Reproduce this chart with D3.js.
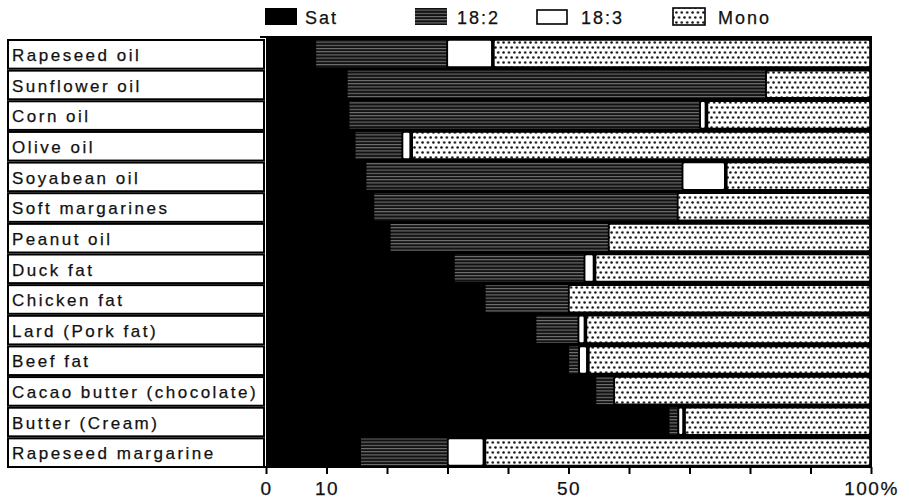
<!DOCTYPE html>
<html>
<head>
<meta charset="utf-8">
<script src="https://cdn.jsdelivr.net/npm/d3@7"></script>
<style>
  body { margin: 0; background: #fff; }
  text { font-family: "Liberation Sans", Arial, sans-serif; fill: #111; stroke: #111; stroke-width: 0.25; }
</style>
</head>
<body>
<div id="chart"></div>
<script>
// fat names, top to bottom
var fats = ["Rapeseed oil", "Sunflower oil", "Corn oil", "Olive oil", "Soyabean oil",
    "Soft margarines", "Peanut oil", "Duck fat", "Chicken fat", "Lard (Pork fat)",
    "Beef fat", "Cacao butter (chocolate)", "Butter (Cream)", "Rapeseed margarine"];

// percent of total fatty acids
var sat   = [8.3, 13.5, 13.8, 14.8, 16.6, 17.9, 20.6, 31.2, 36.3, 44.7, 50.1, 54.6, 66.7, 15.7];
var c18_2 = [21.5, 69.0, 57.8, 7.6, 52.1, 50.0, 35.9, 21.3, 13.6, 6.8, 1.5, 2.8, 1.3, 14.2];
var c18_3 = [7.7, 0, 1.2, 1.6, 7.3, 0, 0, 1.8, 0, 1.3, 1.6, 0, 1.1, 6.2];
var mono  = [62.5, 17.5, 27.2, 76.0, 24.0, 32.1, 43.5, 45.7, 50.1, 47.2, 46.8, 42.6, 30.9, 63.9];

var keys = ["sat", "c18_2", "c18_3", "mono"];
var legendNames = ["Sat", "18:2", "18:3", "Mono"];
var xTicks = [0, 10, 20, 30, 40, 50, 60, 70, 80, 90, 100];
var tickLabels = { 0: "0", 10: "10", 50: "50", 100: "100%" };

var rows = fats.map(function (f, i) {
    return { name: f, sat: sat[i], c18_2: c18_2[i], c18_3: c18_3[i], mono: mono[i] };
});

var width = 909, height = 500;
var plotLeft = 266, plotRight = 871, plotTop = 37, plotBottom = 467;

var svg = d3.select("#chart").append("svg")
    .attr("width", width)
    .attr("height", height);

// patterns
var defs = svg.append("defs");

var hatch = defs.append("pattern")
    .attr("id", "hatch")
    .attr("patternUnits", "userSpaceOnUse")
    .attr("width", 8).attr("height", 3.2);
hatch.append("rect").attr("width", 8).attr("height", 3.2).attr("fill", "#111");
hatch.append("line")
    .attr("x1", 0).attr("x2", 8).attr("y1", 0.6).attr("y2", 0.6)
    .attr("stroke", "#bbb").attr("stroke-width", 0.7);

var dots = defs.append("pattern")
    .attr("id", "dots")
    .attr("patternUnits", "userSpaceOnUse")
    .attr("width", 5.4).attr("height", 10);
dots.append("rect").attr("width", 5.4).attr("height", 10).attr("fill", "#fff");
dots.append("circle").attr("cx", 1.4).attr("cy", 2.5).attr("r", 1.25).attr("fill", "#111");
dots.append("circle").attr("cx", 4.1).attr("cy", 7.5).attr("r", 1.25).attr("fill", "#111");

var x = d3.scaleLinear().domain([0, 100]).range([plotLeft, plotRight]);
var y = d3.scaleBand().domain(fats).range([plotTop + 1, plotBottom]).padding(0);

var stacked = d3.stack().keys(keys)(rows);

// black ground of the plot
svg.append("rect")
    .attr("x", plotLeft).attr("y", plotTop)
    .attr("width", plotRight - plotLeft + 1).attr("height", plotBottom - plotTop)
    .attr("fill", "#000");

function fillFor(key) {
    if (key == "sat") return "#000";
    if (key == "c18_2") return "url(#hatch)";
    if (key == "c18_3") return "#fff";
    return "url(#dots)";
}

stacked.forEach(function (layer) {
    var key = layer.key;
    svg.append("g").selectAll("rect")
        .data(layer.filter(function (d) { return d[1] - d[0] > 0; }))
        .enter()
        .append("rect")
        .attr("x", function (d) {
            return key == "sat" || key == "c18_2" ? x(d[0]) : x(d[0]) + 1;
        })
        .attr("y", function (d) { return y(d.data.name) + (key == "sat" ? 0 : 2); })
        .attr("width", function (d) {
            var w = x(d[1]) - x(d[0]);
            return key == "sat" || key == "c18_2" ? w : Math.max(w - 2, 1);
        })
        .attr("height", y.bandwidth() - (key == "sat" ? 0 : 3.5))
        .attr("rx", key == "c18_3" || key == "mono" ? 2 : 0)
        .attr("fill", fillFor(key))
        .attr("stroke", key == "c18_3" || key == "mono" ? "#000" : "none")
        .attr("stroke-width", 1.6);
});

// top rule
svg.append("line")
    .attr("x1", 260).attr("x2", plotRight + 1)
    .attr("y1", plotTop).attr("y2", plotTop)
    .attr("stroke", "#000").attr("stroke-width", 2);

// label boxes
var labels = svg.append("g");
labels.selectAll("rect")
    .data(fats)
    .enter()
    .append("rect")
    .attr("x", 8)
    .attr("y", function (d) { return y(d) + 2; })
    .attr("width", 256)
    .attr("height", y.bandwidth() - 2)
    .attr("fill", "#fff")
    .attr("stroke", "#000")
    .attr("stroke-width", 2);

labels.selectAll("text")
    .data(fats)
    .enter()
    .append("text")
    .attr("x", 12)
    .attr("y", function (d) { return y(d) + 23; })
    .attr("font-size", 17)
    .attr("letter-spacing", 2.5)
    .text(function (d) { return d; });

// x axis
var xAxis = d3.axisBottom(x)
    .tickValues(xTicks)
    .tickSize(7)
    .tickFormat(function (d) { return tickLabels[d] || ""; });

var axisG = svg.append("g")
    .attr("transform", "translate(0," + plotBottom + ")")
    .call(xAxis);
axisG.select(".domain").attr("stroke-width", 2).attr("d", "M" + 8 + ",0H" + (plotRight + 1));
axisG.selectAll(".tick line").attr("stroke-width", 2);
axisG.selectAll(".tick text")
    .attr("font-size", 19)
    .attr("letter-spacing", 1.5)
    .attr("font-family", "Liberation Sans, Arial, sans-serif")
    .attr("fill", "#111")
    .attr("dy", "0.95em");

// legend
var legendSwatchX = [265, 415, 537, 673];
var legendTextX = [305, 457, 581, 718];
var legend = svg.append("g");
keys.forEach(function (k, i) {
    legend.append("rect")
        .attr("x", legendSwatchX[i])
        .attr("y", k == "c18_3" ? 10 : 8)
        .attr("width", k == "c18_3" ? 30 : 32)
        .attr("height", k == "c18_3" ? 14 : 17)
        .attr("fill", fillFor(k))
        .attr("stroke", k == "c18_3" || k == "mono" ? "#000" : "none")
        .attr("stroke-width", 1.6);
    legend.append("text")
        .attr("x", legendTextX[i])
        .attr("y", 24)
        .attr("font-size", 18)
        .attr("letter-spacing", 2)
        .text(legendNames[i]);
});
</script>
</body>
</html>
